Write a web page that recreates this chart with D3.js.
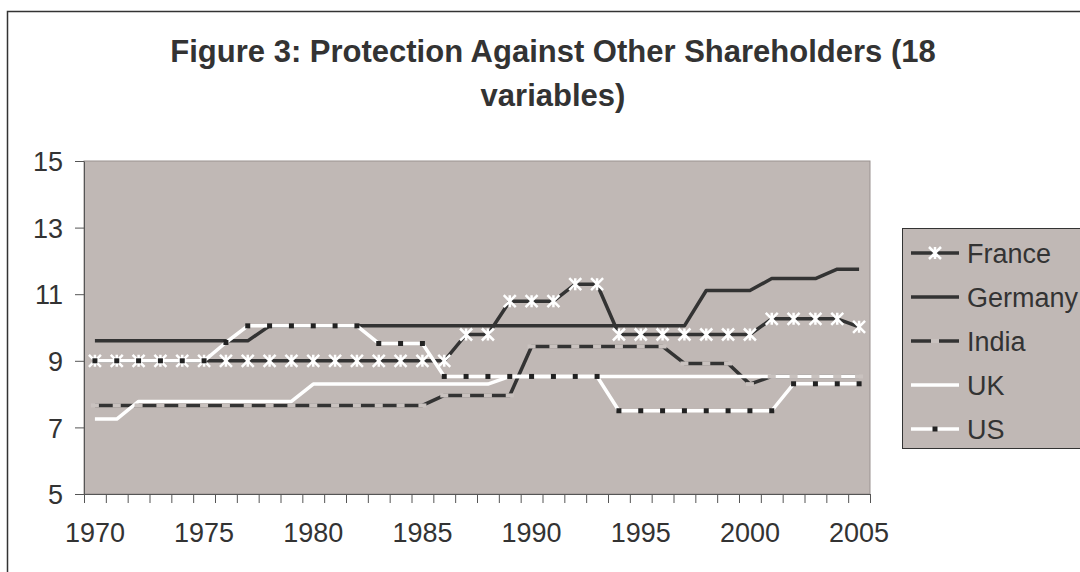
<!DOCTYPE html>
<html>
<head>
<meta charset="utf-8">
<script src="https://cdn.jsdelivr.net/npm/d3@7"></script>
<style>
  html, body { margin: 0; padding: 0; background: #fff; }
  svg { display: block; font-family: 'Liberation Sans', Arial, sans-serif; }
  .axis text { fill: #333; font-size: 27px; }
  .axis path, .axis line { stroke: #555; }
</style>
</head>
<body>
<div id="chart"></div>
<script>
// データ
const years = d3.range(1970, 2006);
const yTicks = [5, 7, 9, 11, 13, 15];
const xLabels = [1970, 1975, 1980, 1985, 1990, 1995, 2000, 2005];
const titleLines = ['Figure 3: Protection Against Other Shareholders (18', 'variables)'];

const france = [9, 9, 9, 9, 9, 9, 9, 9, 9, 9, 9, 9, 9, 9, 9, 9, 9,
  9.79, 9.79, 10.79, 10.79, 10.79, 11.3, 11.3,
  9.79, 9.79, 9.79, 9.79, 9.79, 9.79, 9.79,
  10.26, 10.26, 10.26, 10.26, 10.02];
const germany = [9.6, 9.6, 9.6, 9.6, 9.6, 9.6, 9.6, 9.6,
  10.05, 10.05, 10.05, 10.05, 10.05, 10.05, 10.05, 10.05, 10.05, 10.05, 10.05, 10.05,
  10.05, 10.05, 10.05, 10.05, 10.05, 10.05, 10.05, 10.05,
  11.11, 11.11, 11.11, 11.47, 11.47, 11.47, 11.75, 11.75];
const india = [7.66, 7.66, 7.66, 7.66, 7.66, 7.66, 7.66, 7.66, 7.66, 7.66, 7.66, 7.66, 7.66, 7.66, 7.66, 7.66,
  7.96, 7.96, 7.96, 7.96,
  9.43, 9.43, 9.43, 9.43, 9.43, 9.43, 9.43,
  8.92, 8.92, 8.92, 8.3, 8.53, 8.53, 8.53, 8.53, 8.53];
const uk = [7.25, 7.25, 7.78, 7.78, 7.78, 7.78, 7.78, 7.78, 7.78, 7.78,
  8.3, 8.3, 8.3, 8.3, 8.3, 8.3, 8.3, 8.3, 8.3,
  8.53, 8.53, 8.53, 8.53, 8.53, 8.53, 8.53, 8.53, 8.53, 8.53, 8.53, 8.53, 8.53, 8.53, 8.53, 8.53, 8.53];
const us = [9, 9, 9, 9, 9, 9, 9.55, 10.05, 10.05, 10.05, 10.05, 10.05, 10.05,
  9.52, 9.52, 9.52,
  8.53, 8.53, 8.53, 8.53, 8.53, 8.53, 8.53, 8.53,
  7.5, 7.5, 7.5, 7.5, 7.5, 7.5, 7.5, 7.5,
  8.31, 8.31, 8.31, 8.31];

const seriesNames = ['France', 'Germany', 'India', 'UK', 'US'];
const seriesValues = [france, germany, india, uk, us];

// 見た目の設定
const dark = '#333333';
const plotFill = '#c0b8b5';
const styles = {
  France: { stroke: dark, marker: 'star' },
  Germany: { stroke: dark, marker: null },
  India: { stroke: dark, marker: 'dash' },
  UK: { stroke: '#ffffff', marker: null },
  US: { stroke: '#ffffff', marker: 'dot' }
};

const W = 1080, H = 572;
const plot = { left: 84, right: 870, top: 161, bottom: 494 };

const svg = d3.select('#chart').append('svg')
  .attr('width', W)
  .attr('height', H);

// 外枠
svg.append('rect')
  .attr('x', 7.5).attr('y', 11.5)
  .attr('width', W).attr('height', H)
  .attr('fill', 'none')
  .attr('stroke', '#333')
  .attr('stroke-width', 1.5);

// タイトル
svg.append('g').selectAll('text')
  .data(titleLines)
  .join('text')
  .attr('x', 553)
  .attr('y', (d, i) => 62 + i * 44)
  .attr('text-anchor', 'middle')
  .attr('font-size', 31)
  .attr('font-weight', 'bold')
  .attr('fill', '#333')
  .text(d => d);

// スケール
const xScale = d3.scaleBand()
  .domain(years)
  .range([plot.left, plot.right]);
const xIndex = d3.scaleLinear()
  .domain([0, years.length])
  .range([plot.left, plot.right]);
const yScale = d3.scaleLinear()
  .domain([5, 15])
  .range([plot.bottom, plot.top]);
const xc = d => xScale(d) + xScale.bandwidth() / 2;

// プロットエリア
svg.append('rect')
  .attr('x', plot.left).attr('y', plot.top)
  .attr('width', plot.right - plot.left)
  .attr('height', plot.bottom - plot.top)
  .attr('fill', plotFill)
  .attr('stroke', '#9a9290')
  .attr('stroke-width', 1);

// Y軸
svg.append('g')
  .attr('class', 'axis axis-y')
  .attr('transform', 'translate(' + plot.left + ',0)')
  .call(d3.axisLeft(yScale).tickValues(yTicks).tickSize(9).tickPadding(12).tickSizeOuter(0))
  .call(g => g.selectAll('text').attr('dy', '0.36em'));

// X軸（目盛り線はカテゴリの境界）
svg.append('g')
  .attr('class', 'axis axis-x-ticks')
  .attr('transform', 'translate(0,' + plot.bottom + ')')
  .call(d3.axisBottom(xIndex).tickValues(d3.range(0, years.length + 1)).tickSize(9).tickFormat('').tickSizeOuter(0));

// X軸ラベル
svg.append('g')
  .attr('class', 'axis axis-x')
  .attr('transform', 'translate(0,' + plot.bottom + ')')
  .call(d3.axisBottom(xScale).tickValues(xLabels).tickSize(0).tickPadding(29))
  .call(g => g.select('.domain').remove());

// ライン
const line = d3.line()
  .x((d, i) => xc(years[i]))
  .y(d => yScale(d));

const lines = svg.append('g').attr('class', 'lines');
seriesNames.forEach((name, k) => {
  lines.append('path')
    .datum(seriesValues[k])
    .attr('fill', 'none')
    .attr('stroke', styles[name].stroke)
    .attr('stroke-width', 3.5)
    .attr('stroke-linejoin', 'round')
    .attr('d', line);
});

// マーカー描画
function drawMarker(g, type, x, y) {
  if (type === 'star') {
    g.append('path')
      .attr('d', 'M' + (x - 6) + ',' + (y - 6) + 'L' + (x + 6) + ',' + (y + 6) +
        'M' + (x + 6) + ',' + (y - 6) + 'L' + (x - 6) + ',' + (y + 6) +
        'M' + x + ',' + (y - 6) + 'L' + x + ',' + (y + 6))
      .attr('stroke', '#fff')
      .attr('stroke-width', 2.5)
      .attr('fill', 'none');
  } else if (type === 'dash') {
    g.append('rect')
      .attr('x', x - 4).attr('y', y - 2)
      .attr('width', 8).attr('height', 4)
      .attr('fill', '#c9c2bf');
  } else if (type === 'dot') {
    g.append('rect')
      .attr('x', x - 2.5).attr('y', y - 2.5)
      .attr('width', 5).attr('height', 5)
      .attr('fill', '#222');
  }
}

const markers = svg.append('g').attr('class', 'markers');
seriesNames.forEach((name, k) => {
  const type = styles[name].marker;
  if (!type) return;
  seriesValues[k].forEach((v, i) => {
    drawMarker(markers, type, xc(years[i]), yScale(v));
  });
});

// 凡例
const legend = svg.append('g').attr('class', 'legend');
legend.append('rect')
  .attr('x', 902.5).attr('y', 228.5)
  .attr('width', 240).attr('height', 220)
  .attr('fill', plotFill)
  .attr('stroke', '#333')
  .attr('stroke-width', 1);

seriesNames.forEach((name, k) => {
  const ly = 253 + k * 44;
  legend.append('line')
    .attr('x1', 911).attr('x2', 959)
    .attr('y1', ly).attr('y2', ly)
    .attr('stroke', styles[name].stroke)
    .attr('stroke-width', 3.5);
  if (styles[name].marker) drawMarker(legend, styles[name].marker, 935, ly);
  legend.append('text')
    .attr('x', 967)
    .attr('y', ly + 10)
    .attr('font-size', 27)
    .attr('fill', '#333')
    .text(name);
});
</script>
</body>
</html>
